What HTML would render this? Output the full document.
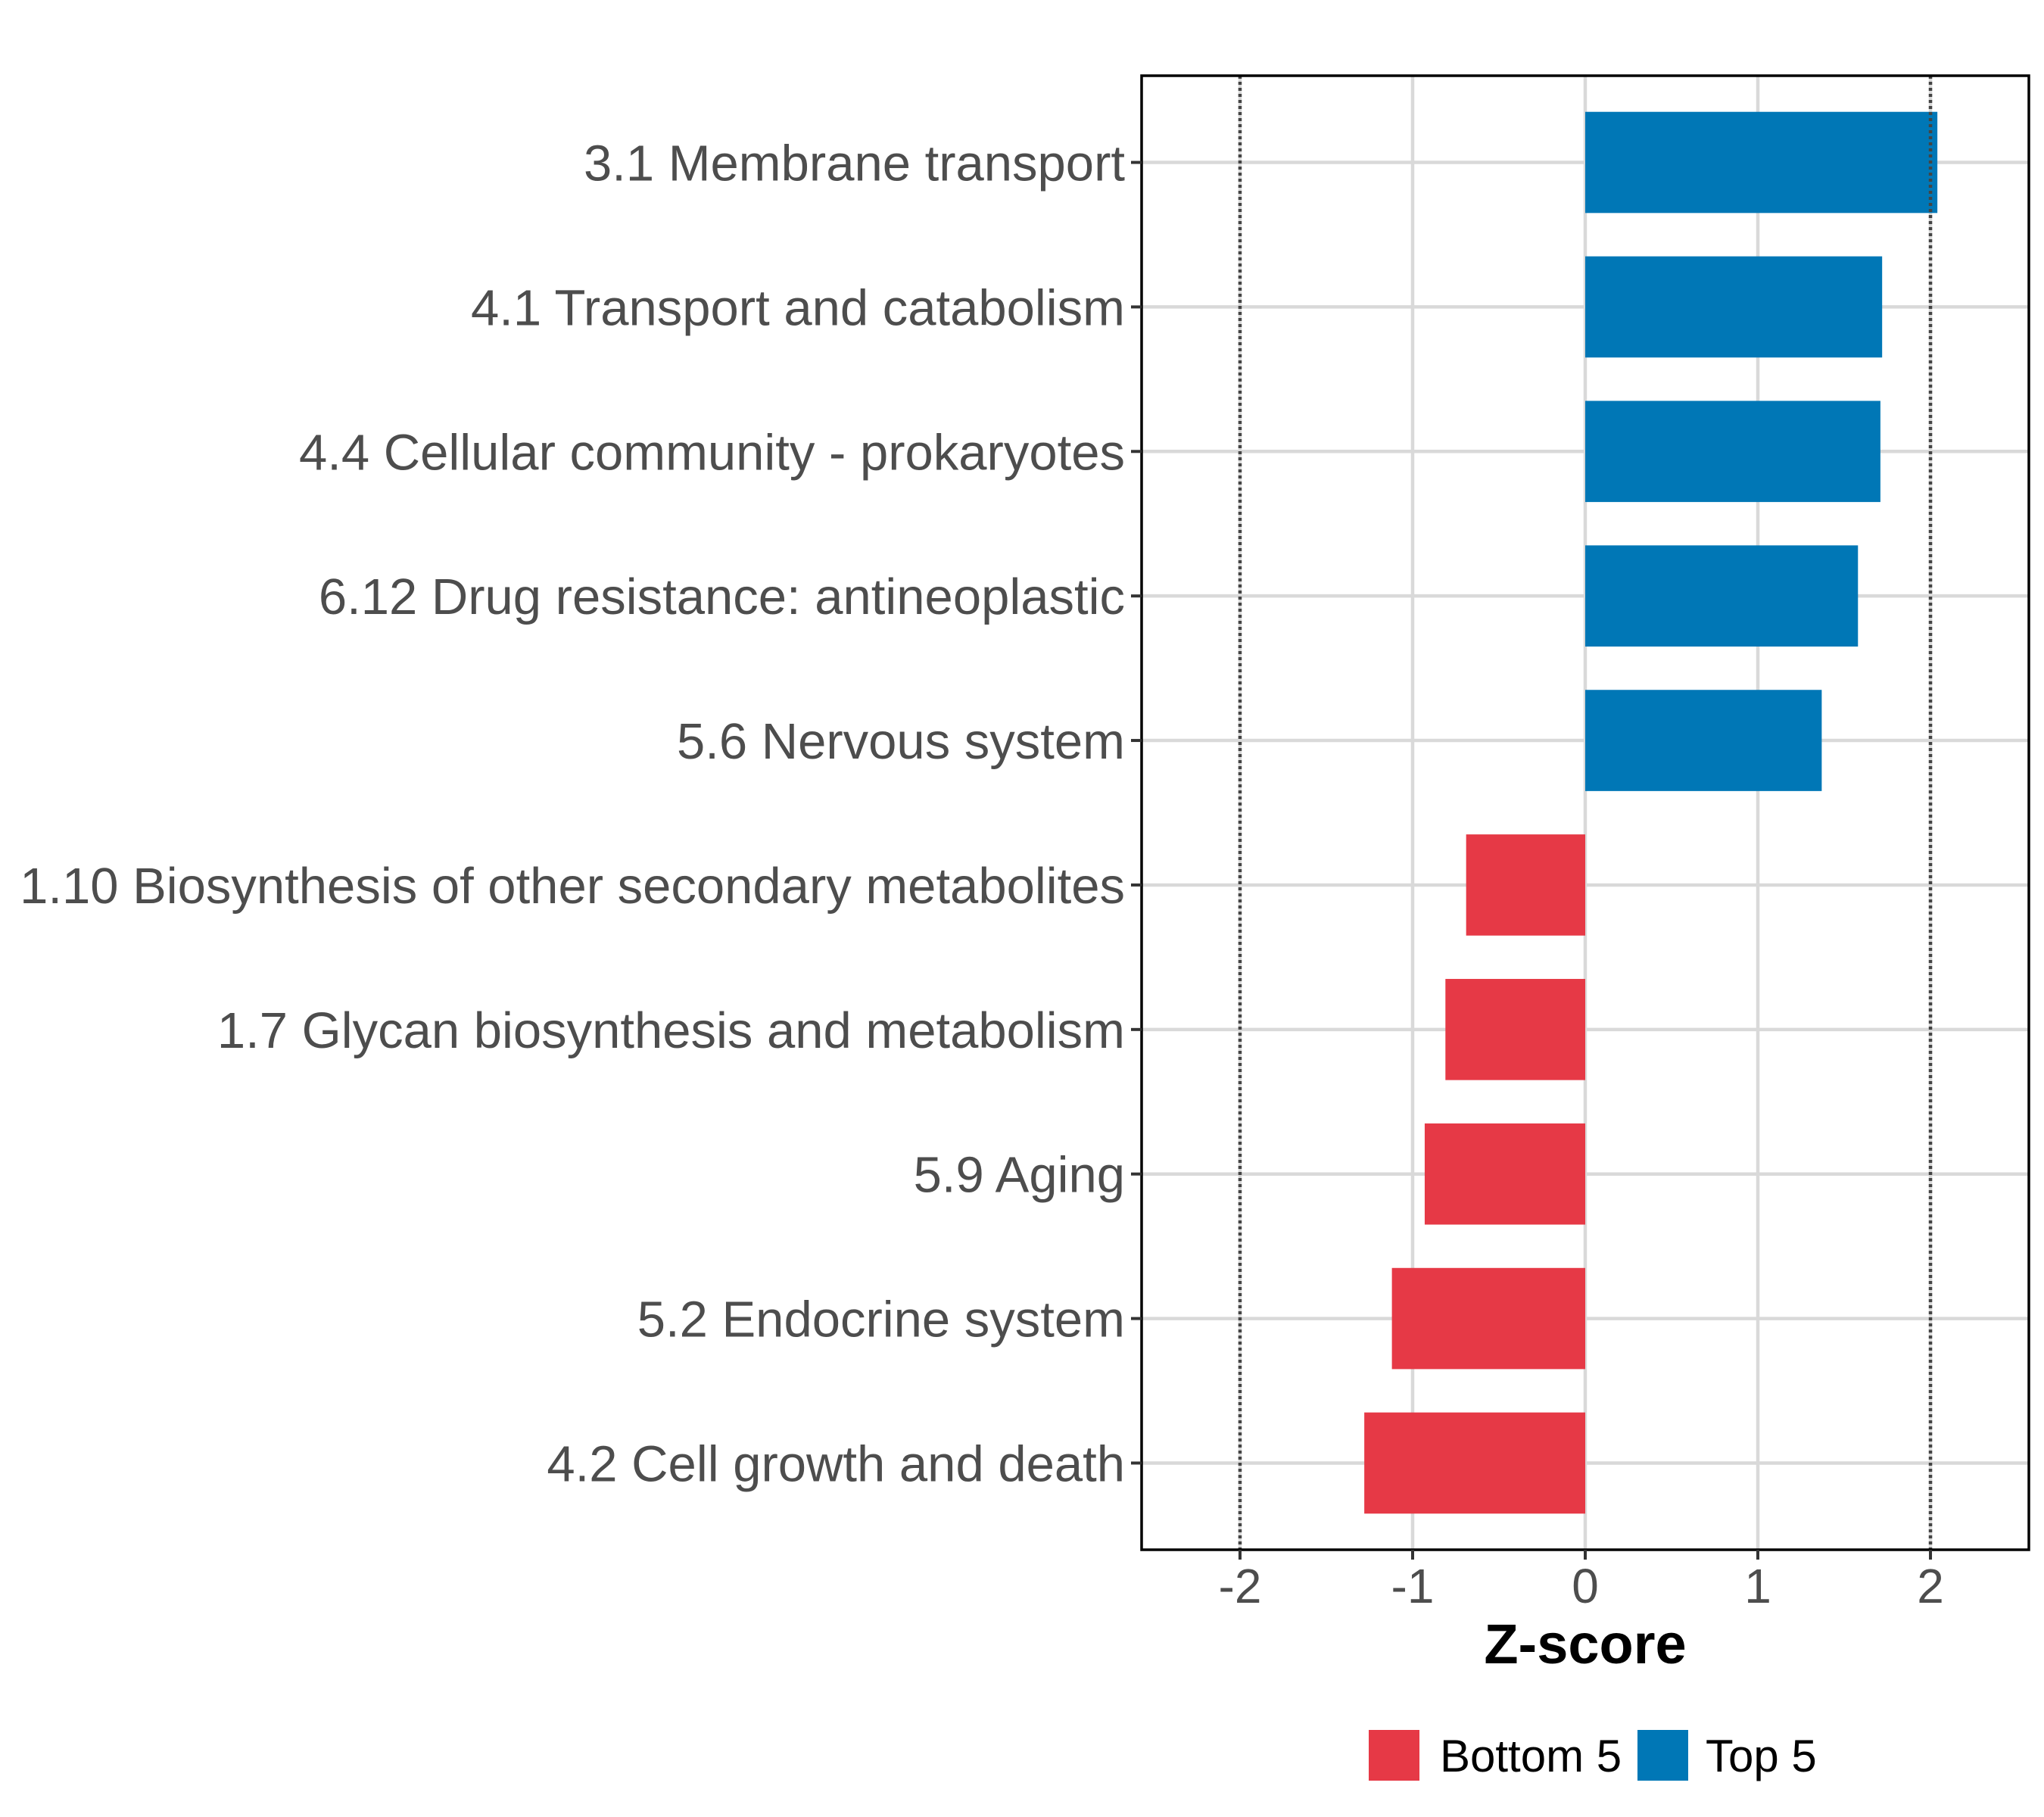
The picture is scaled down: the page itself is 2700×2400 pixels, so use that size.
<!DOCTYPE html>
<html><head><meta charset="utf-8"><style>
html,body{margin:0;padding:0;background:#fff;}
svg{display:block;font-family:"Liberation Sans",Arial,sans-serif;}
</style></head><body>
<svg id="chart" width="2700" height="2400" viewBox="0 0 2700 2400" xmlns="http://www.w3.org/2000/svg">
<rect x="0" y="0" width="2700" height="2400" fill="#fff"/>
<g id="grid"></g>
<g id="bars"></g>
<g id="refs"></g>
<rect x="1508" y="100" width="1172" height="1947" fill="none" stroke="#000" stroke-width="3.5"/>
<g id="yaxis"></g>
<g id="xaxis"></g>
<text x="2094" y="2197" text-anchor="middle" font-size="74" font-weight="bold" fill="#000">Z-score</text>
<g>
<g>
<rect x="1808" y="2285" width="67" height="67" fill="#E63946"/>
<text x="1902" y="2340" font-size="60" fill="#000">Bottom 5</text>
</g>
<g>
<rect x="2163" y="2285" width="67" height="67" fill="#0077B6"/>
<text x="2253" y="2340" font-size="60" fill="#000">Top 5</text>
</g>
</g>
</svg>
<script>
const categories = ["3.1 Membrane transport","4.1 Transport and catabolism","4.4 Cellular community - prokaryotes","6.12 Drug resistance: antineoplastic","5.6 Nervous system","1.10 Biosynthesis of other secondary metabolites","1.7 Glycan biosynthesis and metabolism","5.9 Aging","5.2 Endocrine system","4.2 Cell growth and death"];
const values = [2.04,1.72,1.71,1.58,1.37,-0.69,-0.81,-0.93,-1.12,-1.28];
const groups = ["Top 5","Top 5","Top 5","Top 5","Top 5","Bottom 5","Bottom 5","Bottom 5","Bottom 5","Bottom 5"];
const xTicks = [-2,-1,0,1,2];
const xTickLabels = ["-2","-1","0","1","2"];
const refLines = [-2,2];

const NS="http://www.w3.org/2000/svg";
const PL=1508,PR=2680,PT=100,PB=2047;
const XMIN=-2.57,XMAX=2.57;
function xs(v){return PL+(v-XMIN)/(XMAX-XMIN)*(PR-PL);}
const step=(PB-PT)/(categories.length-1+1.2);
function ys(i){return PT+0.6*step+i*step;}
function mk(tag,attrs,parent){const e=document.createElementNS(NS,tag);for(const k in attrs)e.setAttribute(k,attrs[k]);parent.appendChild(e);return e;}
const grid=document.getElementById('grid'),bars=document.getElementById('bars'),refs=document.getElementById('refs'),ya=document.getElementById('yaxis'),xa=document.getElementById('xaxis');
xTicks.forEach((t,i)=>{
  const l=mk('line',{x1:xs(t),x2:xs(t),y1:PT,y2:PB,stroke:'#d9d9d9','stroke-width':4.5},grid);
  
  
  const tk=mk('line',{x1:xs(t),x2:xs(t),y1:PB,y2:PB+13,stroke:'#333','stroke-width':4},xa);
  
  
  const tx=mk('text',{x:xs(t),y:PB+70,'text-anchor':'middle','font-size':64,fill:'#4d4d4d'},xa);
  tx.textContent=xTickLabels[i];
  
  
});
categories.forEach((c,i)=>{
  const y=ys(i);
  const l=mk('line',{x1:PL,x2:PR,y1:y,y2:y,stroke:'#d9d9d9','stroke-width':4.5},grid);
  
  
  const v=values[i];
  const bh=step*0.7;
  const r=mk('rect',{x:Math.min(xs(0),xs(v)),y:y-bh/2,width:Math.abs(xs(v)-xs(0)),height:bh,fill:groups[i]==='Top 5'?'#0077B6':'#E63946'},bars);
  
  
  const tk=mk('line',{x1:PL-14,x2:PL,y1:y,y2:y,stroke:'#333','stroke-width':4},ya);
  
  
  const tx=mk('text',{x:PL-22,y:y+24,'text-anchor':'end','font-size':67,fill:'#4d4d4d'},ya);
  tx.textContent=c;
  
  
});
refLines.forEach(v=>{
  const l=mk('line',{x1:xs(v),x2:xs(v),y1:PT,y2:PB,stroke:'#444','stroke-width':4.5,'stroke-dasharray':'4 4'},refs);
  
  
});
</script>
</body></html>
